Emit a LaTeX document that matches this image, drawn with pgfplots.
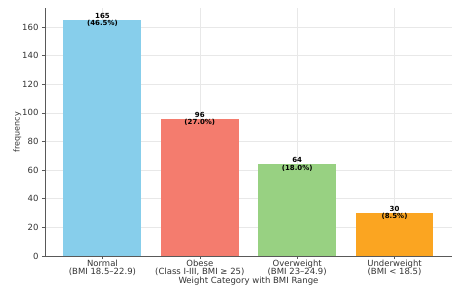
\documentclass[border=0pt]{standalone}
\usepackage{fontspec}
\setmainfont{DejaVu Sans}
\usepackage{pgfplots}
\pgfplotsset{compat=1.18}
\definecolor{c1}{HTML}{87CEEB}
\definecolor{c2}{HTML}{F47C6E}
\definecolor{c3}{HTML}{98D182}
\definecolor{c4}{HTML}{FBA521}
\definecolor{txt}{HTML}{333333}
\begin{document}
\begin{tikzpicture}[x=1pt,y=1pt]
\path[use as bounding box] (-45,-39) rectangle (422,256);
\begin{axis}[
  at={(0,0)}, anchor=south west,
  scale only axis, width=407pt, height=248pt,
  xmin=-0.59, xmax=3.59, ymin=0, ymax=173.25,
  axis x line*=bottom, axis y line*=left,
  axis line style={color=black!65, line width=0.7pt},
  xtick={0,1,2,3},
  xticklabels={{Normal\\(BMI 18.5--22.9)},{Obese\\(Class I-III, BMI ≥ 25)},{Overweight\\(BMI 23--24.9)},{Underweight\\(BMI < 18.5)}},
  xticklabel style={align=center, font=\fontsize{8.5}{8.8}\selectfont, text=txt, inner sep=0.5pt},
  ytick={0,20,...,160},
  yticklabel style={font=\fontsize{8.5}{9}\selectfont, text=txt},
  /pgf/number format/assume math mode=true,
  tick align=outside, major tick length=3pt,
  tick style={color=black!65, line width=0.6pt},
  grid=major, grid style={color=black!9, line width=0.6pt},
  xlabel={Weight Category with BMI Range},
  ylabel={frequency},
  xlabel style={font=\fontsize{8.5}{9}\selectfont, text=txt, at={(axis description cs:0.5,-0.103)}, anchor=center},
  ylabel style={font=\fontsize{8}{9}\selectfont, text=txt, at={(axis description cs:-0.068,0.5)}, anchor=center},
  ybar, bar width=0.8, bar shift=0pt,
  clip=false,
]
\addplot[fill=c1, draw=none] coordinates {(0,165)};
\addplot[fill=c2, draw=none] coordinates {(1,96)};
\addplot[fill=c3, draw=none] coordinates {(2,64)};
\addplot[fill=c4, draw=none] coordinates {(3,30)};
\begin{scope}[every node/.style={align=center, font=\bfseries\fontsize{7}{7.2}\selectfont, inner sep=0pt}]
\node at (axis cs:0,165) {165\\(46.5\%)};
\node at (axis cs:1,96) {96\\(27.0\%)};
\node at (axis cs:2,64) {64\\(18.0\%)};
\node at (axis cs:3,30) {30\\(8.5\%)};
\end{scope}
\end{axis}
\end{tikzpicture}
\end{document}
